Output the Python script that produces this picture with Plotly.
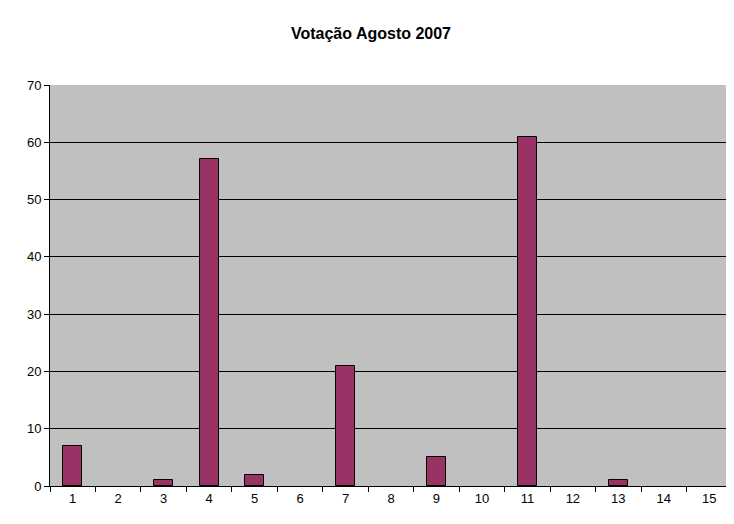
import plotly.graph_objects as go

categories = list(range(1, 16))
votes = [7, 0, 1, 57, 2, 0, 21, 0, 5, 0, 61, 0, 1, 0, 0]
tick_labels = [str(c) for c in categories]

fig = go.Figure(go.Bar(
    x=categories, y=votes, width=0.42,
    marker=dict(color="#993366",
                line=dict(color="black", width=[1 if v else 0 for v in votes])),
))
fig.update_layout(
    width=726, height=516,
    margin=dict(l=42, r=2, t=77, b=38),
    paper_bgcolor="white", plot_bgcolor="#C0C0C0",
    font=dict(family="Liberation Sans, Arial", size=13, color="black"),
    title=dict(text="<b>Votação Agosto 2007</b>", x=0.5, xanchor="center",
               y=0.95, yanchor="middle", font=dict(size=16)),
    showlegend=False, bargap=0,
)
fig.update_xaxes(range=[0.5, 15.5], tickvals=categories, ticktext=tick_labels,
                 ticks="", showgrid=False, showline=True, linecolor="black",
                 zeroline=False,
                 minor=dict(tick0=0.5, dtick=1, ticks="outside", ticklen=5,
                            tickcolor="black", showgrid=False))
fig.update_yaxes(range=[0, 70], dtick=10, ticks="outside", ticklen=5,
                 tickcolor="black", showgrid=True, gridcolor="black",
                 gridwidth=1, showline=True, linecolor="black", zeroline=False)
fig.write_html("out.html")
